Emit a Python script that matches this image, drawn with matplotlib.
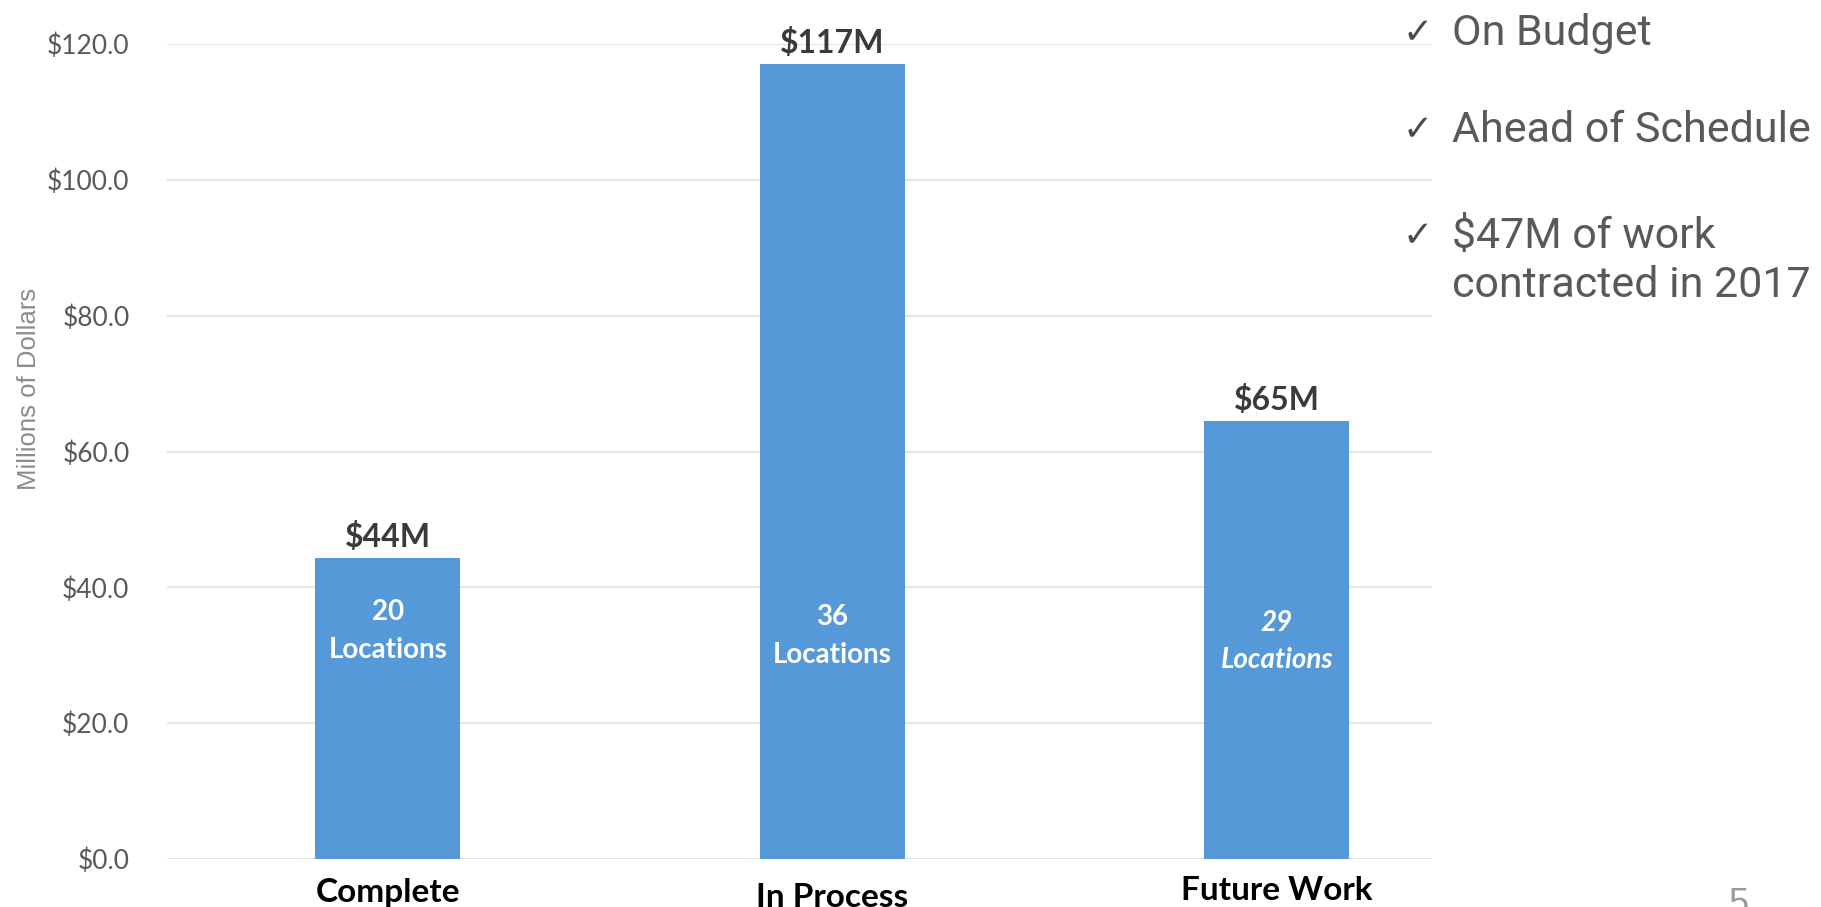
import numpy as np
import matplotlib.pyplot as plt

categories = ["Complete", "In Process", "Future Work"]
values = [44.3, 117.0, 64.5]          # millions of dollars
value_labels = ["$44M", "$117M", "$65M"]
location_counts = ["20", "36", "29"]
yticks = [0, 20, 40, 60, 80, 100, 120]
bullets = ["On Budget", "Ahead of Schedule", "$47M of work\ncontracted in 2017"]

bar_color = "#5599d8"
W, H = 1821, 907

fig = plt.figure(figsize=(W/100, H/100), dpi=100)
ax = fig.add_axes([167/W, 1-859/H, (1432-167)/W, (859-44)/H])

x = np.arange(len(categories))
ax.bar(x, values, width=0.326, color=bar_color, zorder=3)
ax.set_xlim(-0.497, 2.349)
ax.set_ylim(0, 120)

ax.set_yticks(yticks)
ax.set_yticklabels(["$%.1f" % v for v in yticks], fontsize=19, color="#595959", family="Lato")
ax.tick_params(axis="y", length=0, pad=27)
ax.set_xticks([])
ax.grid(axis="y", color="#e4e4e4", lw=1.5, zorder=0)
for s in ax.spines.values():
    s.set_visible(False)

# category names under the bars (In Process sits a bit lower)
cat_y = [-5.0, -5.6, -4.6]
for i, c in enumerate(categories):
    ax.text(x[i], cat_y[i], c, ha="center", va="center", fontsize=24, fontweight="bold",
            family="Lato", color="black", clip_on=False)

# value labels above bars
for i, v in enumerate(values):
    ax.text(x[i], v + 3.1, value_labels[i], ha="center", va="center", fontsize=23,
            fontweight="bold", family="Lato", color="#3a3a3a")

# location counts inside bars
loc_y = [33.6, 32.8, 32.0]
for i, n in enumerate(location_counts):
    style = "italic" if i == 2 else "normal"
    ax.text(x[i], loc_y[i], n + "\nLocations", ha="center", va="center", fontsize=20,
            fontweight="bold", style=style, family="Lato", color="white", linespacing=1.55)

fig.text(29/W, 1-389/H, "Millions of Dollars", rotation=90, ha="center", va="center",
         fontsize=18.5, color="#8c8c8c", family="Liberation Sans")

# checklist on the right
bullet_y = [33, 130, 236]
for b, yy in zip(bullets, bullet_y):
    fig.text(1403/W, 1-yy/H, "\u2713", ha="left", va="center", fontsize=26,
             fontweight="bold", color="#4a4a4a", family="DejaVu Sans")
    multi = "\n" in b
    fig.text(1452/W, 1-(yy - 20 if multi else yy)/H, b, ha="left",
             va="top" if multi else "center", fontsize=31, color="#595959",
             family="Roboto", linespacing=1.25)

fig.text(1739/W, 1-905/H, "5", ha="center", va="center", fontsize=26, color="#999999",
         family="Liberation Sans")

fig.savefig("out.png", dpi=100, facecolor="white")
